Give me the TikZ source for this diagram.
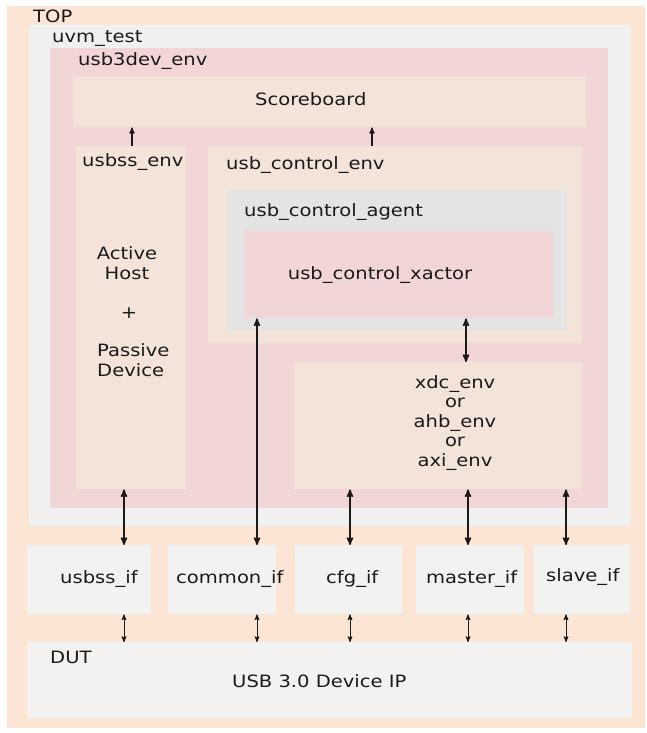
\documentclass[tikz,border=0pt]{standalone}
\usepackage{fontspec}
\setmainfont{DejaVu Sans}[FakeStretch=1.15]
\usetikzlibrary{arrows}
\usetikzlibrary{positioning}

\definecolor{topbg}{RGB}{253,229,213}
\definecolor{testbg}{RGB}{240,240,240}
\definecolor{envbg}{RGB}{242,213,214}
\definecolor{subbg}{RGB}{244,227,216}
\definecolor{agentbg}{RGB}{228,228,228}
\definecolor{ifbg}{RGB}{242,242,242}
\definecolor{ink}{RGB}{26,26,26}

\tikzset{
  area/.style={fill=#1, draw=none, inner sep=0pt, anchor=north west},
  lbl/.style={anchor=base west, inner sep=0pt, text=ink},
  bigarrow/.style={{stealth'}-{stealth'}, line width=1.6pt, draw=ink},
  smallarrow/.style={{stealth'}-{stealth'}, line width=1pt, draw=ink},
  uparrow/.style={-{stealth'}, line width=1.2pt, draw=ink}
}

\begin{document}
\begin{tikzpicture}[x=1pt, y=-1pt, font=\fontsize{17}{19.5}\selectfont]
  \useasboundingbox (0,0) rectangle (647,733);

  % nested containers
  \node[area=topbg, minimum width=638pt, minimum height=722pt] (top) at (7,6) {};
  \node[area=testbg, minimum width=602pt, minimum height=501pt] (test) at (29,25) {};
  \node[area=envbg, minimum width=558pt, minimum height=460pt] (devenv) at (50,48) {};
  \node[area=subbg, minimum width=513pt, minimum height=50pt] (sb) at (73,77) {};
  \node[area=subbg, minimum width=110pt, minimum height=343pt] (ssenv) at (76,146) {};
  \node[area=subbg, minimum width=374pt, minimum height=197pt] (ctrlenv) at (208,146) {};
  \node[area=agentbg, minimum width=340pt, minimum height=141pt] (agent) at (227,190) {};
  \node[area=envbg, minimum width=309pt, minimum height=87pt] (xactor) at (244,231) {};
  \node[area=subbg, minimum width=288pt, minimum height=127pt] (busenv) at (294,362) {};

  % interfaces and dut
  \node[area=ifbg, minimum width=124pt, minimum height=69pt] (ssif) at (27,545) {};
  \node[area=ifbg, minimum width=108pt, minimum height=69pt] (comif) at (168,545) {};
  \node[area=ifbg, minimum width=107pt, minimum height=69pt] (cfgif) at (295,545) {};
  \node[area=ifbg, minimum width=108pt, minimum height=69pt] (mstif) at (416,545) {};
  \node[area=ifbg, minimum width=96pt, minimum height=69pt] (slvif) at (534,545) {};
  \node[area=ifbg, minimum width=605pt, minimum height=76pt] (dut) at (27,642) {};

  % titles
  \node[lbl] (toplbl) at (33,23) {TOP};
  \node[lbl] (testlbl) at (52,43) {uvm\_test};
  \node[lbl] (devlbl) at (78,66) {usb3dev\_env};
  \node[lbl] (sblbl) at (255,106) {Scoreboard};
  \node[lbl] (sslbl) at (82,166) {usbss\_env};
  \node[lbl] (ctrllbl) at (226,169) {usb\_control\_env};
  \node[lbl] (agentlbl) at (244,216) {usb\_control\_agent};
  \node[lbl, anchor=base] (xactorlbl) at (380,279) {usb\_control\_xactor};
  % multi-line labels sit on their last baseline
  \node[text=ink, align=center, inner sep=0pt, anchor=base] (hostlbl) at (127,279) {Active\\Host};
  \node[lbl, anchor=base] (pluslbl) at (129,318) {+};
  \node[text=ink, align=left, inner sep=0pt, anchor=base west] (devicelbl) at (97,376) {Passive\\Device};
  \node[text=ink, align=center, inner sep=0pt, anchor=base] (buslbl) at (455,466) {xdc\_env\\or\\ahb\_env\\or\\axi\_env};

  \node[lbl] (ssiflbl) at (60,583) {usbss\_if};
  \node[lbl] (comlbl) at (176,583) {common\_if};
  \node[lbl] (cfglbl) at (326,583) {cfg\_if};
  \node[lbl] (mstlbl) at (426,583) {master\_if};
  \node[lbl] (slvlbl) at (546,581) {slave\_if};
  \node[lbl] (dutlbl) at (50,663) {DUT};
  \node[lbl] (iplbl) at (232,687) {USB 3.0 Device IP};

  % arrow columns
  \coordinate (s1) at (132,0);
  \coordinate (s2) at (372,0);
  \coordinate (c1) at (124,0);
  \coordinate (c2) at (257,0);
  \coordinate (c3) at (350,0);
  \coordinate (c4) at (468,0);
  \coordinate (c5) at (566,0);
  \coordinate (c6) at (466,0);

  \draw[uparrow] (ssenv.north -| s1) -- (sb.south -| s1);
  \draw[uparrow] (ctrlenv.north -| s2) -- (sb.south -| s2);

  \draw[bigarrow] (ssenv.south -| c1) -- (ssif.north -| c1);
  \draw[bigarrow] (xactor.south -| c2) -- (comif.north -| c2);
  \draw[bigarrow] (busenv.south -| c3) -- (cfgif.north -| c3);
  \draw[bigarrow] (busenv.south -| c4) -- (mstif.north -| c4);
  \draw[bigarrow] (busenv.south -| c5) -- (slvif.north -| c5);
  \draw[bigarrow] (xactor.south -| c6) -- (busenv.north -| c6);

  \draw[smallarrow] (ssif.south -| c1) -- (dut.north -| c1);
  \draw[smallarrow] (comif.south -| c2) -- (dut.north -| c2);
  \draw[smallarrow] (cfgif.south -| c3) -- (dut.north -| c3);
  \draw[smallarrow] (mstif.south -| c4) -- (dut.north -| c4);
  \draw[smallarrow] (slvif.south -| c5) -- (dut.north -| c5);
\end{tikzpicture}
\end{document}
